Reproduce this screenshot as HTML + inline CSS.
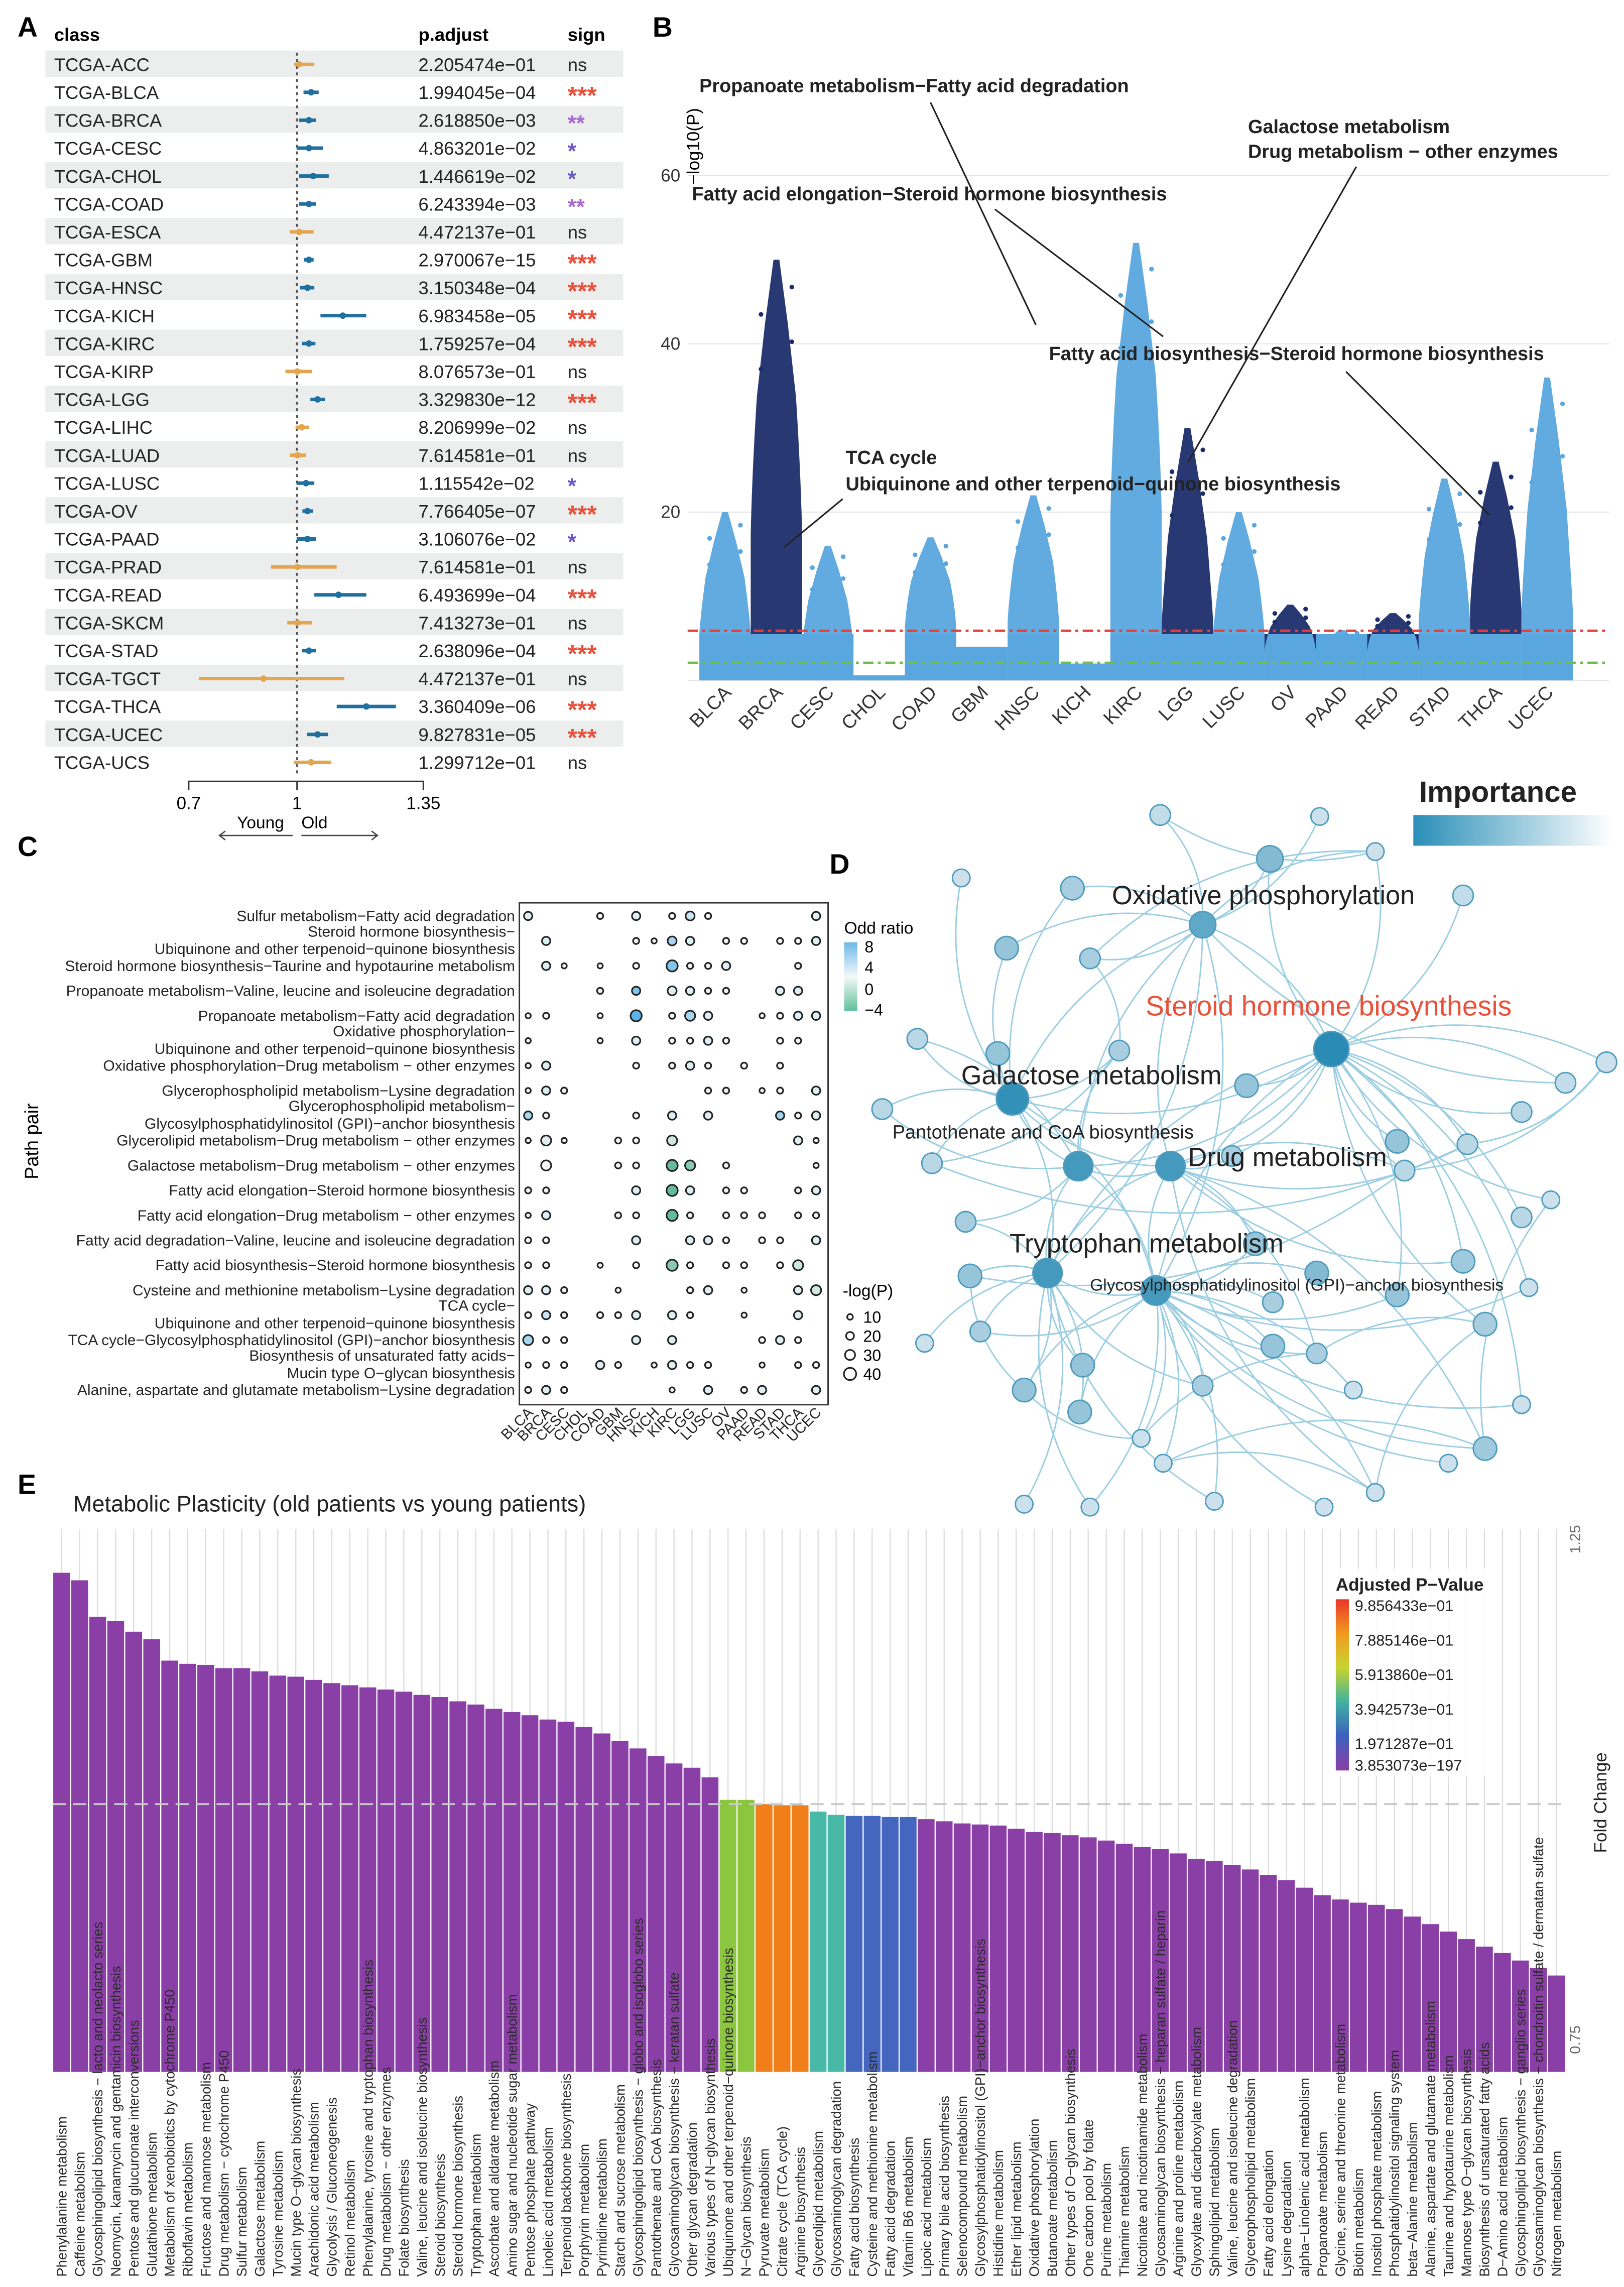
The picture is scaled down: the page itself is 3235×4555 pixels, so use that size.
<!DOCTYPE html>
<html><head><meta charset="utf-8"><style>
html,body{margin:0;padding:0;background:#fff}
svg{display:block;font-family:"Liberation Sans",sans-serif}
</style></head><body>
<svg id="fig" xmlns="http://www.w3.org/2000/svg" width="3235" height="4555" viewBox="0 0 1110 1563" preserveAspectRatio="none">
<defs>
<linearGradient id="impg" x1="0" x2="1" y1="0" y2="0"><stop offset="0" stop-color="#2a8fb8"/><stop offset="1" stop-color="#ffffff"/></linearGradient>
<linearGradient id="org" x1="0" x2="0" y1="0" y2="1"><stop offset="0" stop-color="#6cb8ea"/><stop offset="0.5" stop-color="#f4f8f8"/><stop offset="1" stop-color="#5fbf9c"/></linearGradient>
<linearGradient id="pg" x1="0" x2="0" y1="0" y2="1"><stop offset="0" stop-color="#e8352a"/><stop offset="0.2" stop-color="#f39a1e"/><stop offset="0.4" stop-color="#c7d42e"/><stop offset="0.6" stop-color="#3fb2a0"/><stop offset="0.8" stop-color="#3d5fbf"/><stop offset="1" stop-color="#8a3fa6"/></linearGradient>
</defs>
<g id="A"></g>
<g id="B"></g>
<g id="C"></g>
<g id="D"></g>
<g id="E"></g>
</svg>
<script>
// ---------- Panel A data ----------
const aClasses=["TCGA-ACC","TCGA-BLCA","TCGA-BRCA","TCGA-CESC","TCGA-CHOL","TCGA-COAD","TCGA-ESCA","TCGA-GBM","TCGA-HNSC","TCGA-KICH","TCGA-KIRC","TCGA-KIRP","TCGA-LGG","TCGA-LIHC","TCGA-LUAD","TCGA-LUSC","TCGA-OV","TCGA-PAAD","TCGA-PRAD","TCGA-READ","TCGA-SKCM","TCGA-STAD","TCGA-TGCT","TCGA-THCA","TCGA-UCEC","TCGA-UCS"];
const aEst=[1.006,1.039,1.033,1.033,1.045,1.033,1.006,1.033,1.029,1.127,1.033,1.001,1.057,1.013,1.001,1.025,1.029,1.029,1.001,1.115,1.001,1.033,0.907,1.192,1.057,1.039];
const aLow=[0.992,1.018,1.006,0.999,1.006,1.006,0.980,1.020,1.008,1.065,1.013,0.968,1.037,0.996,0.980,0.999,1.015,0.999,0.928,1.048,0.973,1.013,0.728,1.110,1.027,0.992];
const aHigh=[1.048,1.060,1.053,1.072,1.088,1.053,1.046,1.046,1.048,1.192,1.051,1.041,1.077,1.034,1.025,1.048,1.044,1.053,1.110,1.192,1.041,1.053,1.131,1.274,1.086,1.095];
const aPadj=["2.205474e−01","1.994045e−04","2.618850e−03","4.863201e−02","1.446619e−02","6.243394e−03","4.472137e−01","2.970067e−15","3.150348e−04","6.983458e−05","1.759257e−04","8.076573e−01","3.329830e−12","8.206999e−02","7.614581e−01","1.115542e−02","7.766405e−07","3.106076e−02","7.614581e−01","6.493699e−04","7.413273e−01","2.638096e−04","4.472137e−01","3.360409e−06","9.827831e−05","1.299712e−01"];
const aSign=["ns","***","**","*","*","**","ns","***","***","***","***","ns","***","ns","ns","*","***","*","ns","***","ns","***","ns","***","***","ns"];
const aTicks=[0.7,1,1.35];
// ---------- Panel B data ----------
const bCancers=["BLCA","BRCA","CESC","CHOL","COAD","GBM","HNSC","KICH","KIRC","LGG","LUSC","OV","PAAD","READ","STAD","THCA","UCEC"];
const bMax=[20,50,16,0.6,17,4,22,2,52,30,20,9,6,8,24,26,36];
const bBulk=[8,25,6,0.4,9,2,10,1.5,28,10,8,5,3,5,10,12,12];
const bTicks=[0,20,40,60];
// ---------- Panel C data ----------
const cCols=["BLCA","BRCA","CESC","CHOL","COAD","GBM","HNSC","KICH","KIRC","LGG","LUSC","OV","PAAD","READ","STAD","THCA","UCEC"];
const cRows=[["Sulfur metabolism−Fatty acid degradation"],["Steroid hormone biosynthesis−","Ubiquinone and other terpenoid−quinone biosynthesis"],["Steroid hormone biosynthesis−Taurine and hypotaurine metabolism"],["Propanoate metabolism−Valine, leucine and isoleucine degradation"],["Propanoate metabolism−Fatty acid degradation"],["Oxidative phosphorylation−","Ubiquinone and other terpenoid−quinone biosynthesis"],["Oxidative phosphorylation−Drug metabolism − other enzymes"],["Glycerophospholipid metabolism−Lysine degradation"],["Glycerophospholipid metabolism−","Glycosylphosphatidylinositol (GPI)−anchor biosynthesis"],["Glycerolipid metabolism−Drug metabolism − other enzymes"],["Galactose metabolism−Drug metabolism − other enzymes"],["Fatty acid elongation−Steroid hormone biosynthesis"],["Fatty acid elongation−Drug metabolism − other enzymes"],["Fatty acid degradation−Valine, leucine and isoleucine degradation"],["Fatty acid biosynthesis−Steroid hormone biosynthesis"],["Cysteine and methionine metabolism−Lysine degradation"],["TCA cycle−","Ubiquinone and other terpenoid−quinone biosynthesis"],["TCA cycle−Glycosylphosphatidylinositol (GPI)−anchor biosynthesis"],["Biosynthesis of unsaturated fatty acids−","Mucin type O−glycan biosynthesis"],["Alanine, aspartate and glutamate metabolism−Lysine degradation"]];
const cDots=[[0,0,22,1],[0,4,12,0],[0,6,22,1],[0,8,12,0],[0,9,25,2],[0,10,12,0],[0,16,22,1],
[1,1,22,1],[1,6,12,0],[1,7,8,0],[1,8,25,4],[1,9,22,1],[1,11,12,0],[1,12,12,0],[1,14,12,0],[1,15,12,0],[1,16,22,1],
[2,1,22,1],[2,2,8,0],[2,4,8,0],[2,6,12,0],[2,8,35,6],[2,9,12,0],[2,10,12,0],[2,11,22,1],[2,15,12,0],
[3,4,12,0],[3,6,22,6],[3,8,25,1],[3,9,22,1],[3,10,12,0],[3,11,12,0],[3,14,22,1],[3,15,22,1],
[4,0,8,0],[4,1,12,0],[4,4,8,0],[4,6,35,8],[4,8,12,0],[4,9,30,4],[4,10,22,1],[4,13,8,0],[4,14,12,0],[4,15,22,1],[4,16,22,1],
[5,0,8,0],[5,4,8,0],[5,6,22,1],[5,8,12,0],[5,9,12,0],[5,10,22,1],[5,11,12,0],[5,14,12,0],[5,15,12,0],
[6,0,8,0],[6,1,22,1],[6,6,12,0],[6,8,12,0],[6,9,22,1],[6,10,12,0],[6,12,12,0],[6,14,12,0],
[7,0,8,0],[7,1,22,1],[7,2,12,0],[7,10,12,0],[7,11,12,0],[7,13,8,0],[7,14,12,0],[7,16,22,1],
[8,0,22,4],[8,1,12,0],[8,6,12,0],[8,8,22,1],[8,10,22,1],[8,14,22,4],[8,15,12,0],[8,16,22,1],
[9,0,8,0],[9,1,30,1],[9,2,8,0],[9,5,12,0],[9,6,12,0],[9,8,30,-1],[9,15,22,1],[9,16,8,0],
[10,1,30,0],[10,5,12,0],[10,6,12,0],[10,8,35,-4],[10,9,30,-3],[10,11,12,0],[10,16,8,0],
[11,0,12,0],[11,1,12,0],[11,6,22,1],[11,8,35,-4],[11,9,22,1],[11,11,12,0],[11,12,12,0],[11,15,12,0],[11,16,22,1],
[12,0,8,0],[12,1,22,1],[12,5,12,0],[12,6,12,0],[12,8,35,-4],[12,9,12,0],[12,11,12,0],[12,12,12,0],[12,13,12,0],[12,15,12,0],[12,16,12,0],
[13,0,12,0],[13,1,12,0],[13,6,22,1],[13,9,22,1],[13,10,22,1],[13,11,12,0],[13,13,12,0],[13,14,12,0],[13,16,22,1],
[14,0,12,0],[14,1,12,0],[14,4,8,0],[14,6,12,0],[14,8,35,-3],[14,9,12,0],[14,11,12,0],[14,12,12,0],[14,14,12,0],[14,15,30,-1],
[15,0,22,1],[15,1,22,1],[15,2,12,0],[15,5,8,0],[15,9,12,0],[15,10,22,1],[15,12,8,0],[15,15,22,1],[15,16,30,-1],
[16,0,12,0],[16,1,22,2],[16,2,12,0],[16,4,12,0],[16,5,12,0],[16,6,22,1],[16,8,22,1],[16,9,12,0],[16,12,8,0],[16,15,22,1],
[17,0,30,4],[17,1,12,0],[17,2,12,0],[17,6,22,1],[17,8,22,1],[17,13,12,0],[17,14,22,1],[17,15,12,0],
[18,0,8,0],[18,1,12,0],[18,2,12,0],[18,4,22,1],[18,5,12,0],[18,7,8,0],[18,8,22,1],[18,9,12,0],[18,10,12,0],[18,13,8,0],[18,15,12,0],[18,16,12,0],
[19,0,12,0],[19,1,22,1],[19,2,12,0],[19,8,8,0],[19,10,22,1],[19,12,12,0],[19,13,22,1],[19,16,22,1]];
// ---------- Panel E data ----------
const eLabels=["Phenylalanine metabolism","Caffeine metabolism","Glycosphingolipid biosynthesis − lacto and neolacto series","Neomycin, kanamycin and gentamicin biosynthesis","Pentose and glucuronate interconversions","Glutathione metabolism","Metabolism of xenobiotics by cytochrome P450","Riboflavin metabolism","Fructose and mannose metabolism","Drug metabolism − cytochrome P450","Sulfur metabolism","Galactose metabolism","Tyrosine metabolism","Mucin type O−glycan biosynthesis","Arachidonic acid metabolism","Glycolysis / Gluconeogenesis","Retinol metabolism","Phenylalanine, tyrosine and tryptophan biosynthesis","Drug metabolism − other enzymes","Folate biosynthesis","Valine, leucine and isoleucine biosynthesis","Steroid biosynthesis","Steroid hormone biosynthesis","Tryptophan metabolism","Ascorbate and aldarate metabolism","Amino sugar and nucleotide sugar metabolism","Pentose phosphate pathway","Linoleic acid metabolism","Terpenoid backbone biosynthesis","Porphyrin metabolism","Pyrimidine metabolism","Starch and sucrose metabolism","Glycosphingolipid biosynthesis − globo and isoglobo series","Pantothenate and CoA biosynthesis","Glycosaminoglycan biosynthesis − keratan sulfate","Other glycan degradation","Various types of N−glycan biosynthesis","Ubiquinone and other terpenoid−quinone biosynthesis","N−Glycan biosynthesis","Pyruvate metabolism","Citrate cycle (TCA cycle)","Arginine biosynthesis","Glycerolipid metabolism","Glycosaminoglycan degradation","Fatty acid biosynthesis","Cysteine and methionine metabolism","Fatty acid degradation","Vitamin B6 metabolism","Lipoic acid metabolism","Primary bile acid biosynthesis","Selenocompound metabolism","Glycosylphosphatidylinositol (GPI)−anchor biosynthesis","Histidine metabolism","Ether lipid metabolism","Oxidative phosphorylation","Butanoate metabolism","Other types of O−glycan biosynthesis","One carbon pool by folate","Purine metabolism","Thiamine metabolism","Nicotinate and nicotinamide metabolism","Glycosaminoglycan biosynthesis − heparan sulfate / heparin","Arginine and proline metabolism","Glyoxylate and dicarboxylate metabolism","Sphingolipid metabolism","Valine, leucine and isoleucine degradation","Glycerophospholipid metabolism","Fatty acid elongation","Lysine degradation","alpha−Linolenic acid metabolism","Propanoate metabolism","Glycine, serine and threonine metabolism","Biotin metabolism","Inositol phosphate metabolism","Phosphatidylinositol signaling system","beta−Alanine metabolism","Alanine, aspartate and glutamate metabolism","Taurine and hypotaurine metabolism","Mannose type O−glycan biosynthesis","Biosynthesis of unsaturated fatty acids","D−Amino acid metabolism","Glycosphingolipid biosynthesis − ganglio series","Glycosaminoglycan biosynthesis − chondroitin sulfate / dermatan sulfate","Nitrogen metabolism"];
const eFC=[1.216,1.209,1.175,1.171,1.161,1.154,1.134,1.131,1.130,1.127,1.127,1.124,1.120,1.119,1.116,1.113,1.111,1.109,1.107,1.105,1.102,1.100,1.096,1.093,1.089,1.086,1.083,1.079,1.077,1.072,1.066,1.059,1.052,1.045,1.038,1.034,1.025,1.004,1.004,1.000,0.999,0.999,0.993,0.990,0.989,0.989,0.988,0.988,0.986,0.984,0.982,0.981,0.980,0.977,0.974,0.973,0.971,0.969,0.966,0.963,0.960,0.958,0.954,0.949,0.947,0.943,0.939,0.934,0.929,0.922,0.915,0.911,0.908,0.906,0.902,0.895,0.888,0.881,0.874,0.867,0.861,0.854,0.847,0.840];
const ePadj=[0,0,0,0,0,0,0,0,0,0,0,0,0,0,0,0,0,0,0,0,0,0,0,0,0,0,0,0,0,0,0,0,0,0,0,0,0,0.60,0.62,0.80,0.82,0.82,0.40,0.42,0.20,0.22,0.22,0.20,0,0,0,0,0,0,0,0,0,0,0,0,0,0,0,0,0,0,0,0,0,0,0,0,0,0,0,0,0,0,0,0,0,0,0,0];
const eTicks=[0.75,1.0,1.25];
const ePLabels=["9.856433e−01","7.885146e−01","5.913860e−01","3.942573e−01","1.971287e−01","3.853073e−197"];

const NS="http://www.w3.org/2000/svg";
function mk(parent,tag,attrs,text){const e=document.createElementNS(NS,tag);for(const k in attrs)e.setAttribute(k,attrs[k]);if(text!==undefined)e.textContent=text;parent.appendChild(e);return e;}

// ================= PANEL A =================
(function(){
const g=document.getElementById('A');
const ax=v=>203+(v-1)*246.7;
const rowY=i=>44+i*19.08;
let t=mk(g,'text',{x:12,y:25,'font-size':19,'font-weight':'bold'},'A');


[["class",37],["p.adjust",286],["sign",388]].forEach(h=>{
 const e=mk(g,'text',{x:h[1],y:28,'font-size':12.5,'font-weight':'bold'},h[0]);
 
 
});
aClasses.forEach((c,i)=>{
 const y=rowY(i);
 if(i%2===0){const r=mk(g,'rect',{x:31,y:y-9.5,width:395,height:18,fill:'#eceeee'});
  
  }
});
const dl=mk(g,'line',{x1:ax(1),x2:ax(1),y1:36,y2:530,stroke:'#555','stroke-width':1.3,'stroke-dasharray':'2,2.5'});


aClasses.forEach((c,i)=>{
 const y=rowY(i);const sig=aSign[i]!=='ns';const col=sig?'#1f6fa0':'#e3a54e';
 let e=mk(g,'text',{x:37,y:y+4.5,'font-size':12.5,fill:'#222'},c);
 
 
 const l=mk(g,'line',{x1:ax(aLow[i]),x2:ax(aHigh[i]),y1:y,y2:y,stroke:col,'stroke-width':2.4});
 
 
 const p=mk(g,'circle',{cx:ax(aEst[i]),cy:y,r:2.2,fill:col});
 
 
 e=mk(g,'text',{x:286,y:y+4.5,'font-size':12.5,fill:'#222'},aPadj[i]);
 
 
 let sc='#222',fs=12.5,yy=y+4.5;
 if(aSign[i]==='***'){sc='#e8503a';fs=17;yy=y+8;}else if(aSign[i]==='**'){sc='#a866d0';fs=15;yy=y+7;}else if(aSign[i]==='*'){sc='#6a5ac8';fs=15;yy=y+7;}
 e=mk(g,'text',{x:388,y:yy,'font-size':fs,fill:sc,'font-weight':aSign[i]==='ns'?'normal':'bold'},aSign[i]);
 
 
});
const al=mk(g,'path',{d:`M${ax(0.7)},540 V534 H${ax(1.35)} V540 M${ax(1)},534 V540`,stroke:'#333',fill:'none','stroke-width':1});


aTicks.forEach(v=>{const e=mk(g,'text',{x:ax(v),y:553,'font-size':12,'text-anchor':'middle'},String(v));
 
 });
let e=mk(g,'text',{x:162,y:566,'font-size':11.5},'Young');

e=mk(g,'text',{x:206,y:566,'font-size':11.5},'Old');

const ar=mk(g,'path',{d:'M200,571 H150 M154,568 L150,571 L154,574 M206,571 H258 M254,568 L258,571 L254,574',stroke:'#444',fill:'none','stroke-width':0.9});

})();

// ================= PANEL B =================
(function(){
const g=document.getElementById('B');
const ys=v=>465-v*5.75;
const x0=478,cw=(1075-478)/bCancers.length;
let t=mk(g,'text',{x:446,y:25,'font-size':19,'font-weight':'bold'},'B');

bTicks.forEach(v=>{
 const l=mk(g,'line',{x1:470,x2:1100,y1:ys(v),y2:ys(v),stroke:'#e6e6e6','stroke-width':0.8});
 
 if(v>0){const e=mk(g,'text',{x:465,y:ys(v)+4,'font-size':12,'text-anchor':'end',fill:'#333'},String(v));
 }
});
t=mk(g,'text',{x:0,y:0,'font-size':12,transform:'translate(478,100) rotate(-90)','text-anchor':'middle'},'−log10(P)');

bCancers.forEach((c,i)=>{
 const xa=x0+i*cw,xb=xa+cw,xc=xa+cw/2;
 const dark=i%2===1;const col=dark?'#1c2d6a':'#5aa6de';
 const base=Math.min(bMax[i],5.5);
 const r=mk(g,'rect',{x:xa,y:ys(base),width:cw,height:ys(0)-ys(base),fill:'#5aa6de'});
 
 if(bMax[i]>5.5){
  const b=bBulk[i],m=bMax[i],q1=b+(m-b)*0.35,q2=b+(m-b)*0.7;
  const d=`M${xa},${ys(5.5)} L${xa},${ys(b*0.7)} Q${xa+1},${ys(b)} ${xa+cw*0.12},${ys(q1)} L${xc-cw*0.22},${ys(q2)} L${xc-2},${ys(m)} L${xc+2},${ys(m)} L${xc+cw*0.22},${ys(q2)} L${xb-cw*0.12},${ys(q1)} Q${xb-1},${ys(b)} ${xb},${ys(b*0.7)} L${xb},${ys(5.5)} Z`;
  const p=mk(g,'path',{d:d,fill:col,opacity:0.95});
  
  // sparse outlier dots along upper part
  for(let k=1;k<=4;k++){
   const v=q1+(m-q1)*k/5;const off=(k%2?-1:1)*cw*0.3;
   const dt=mk(g,'circle',{cx:xc+off,cy:ys(v),r:1.6,fill:col});
   
  }
 }
 const e=mk(g,'text',{x:0,y:0,'font-size':13,'text-anchor':'end',fill:'#333',transform:`translate(${xc+5},${474}) rotate(-45)`},c);
 
});
let l=mk(g,'line',{x1:470,x2:1100,y1:ys(5.9),y2:ys(5.9),stroke:'#e0413a','stroke-width':1.6,'stroke-dasharray':'7,3,2,3'});

l=mk(g,'line',{x1:470,x2:1100,y1:ys(2.1),y2:ys(2.1),stroke:'#6cc04a','stroke-width':1.6,'stroke-dasharray':'7,3,2,3'});

const ann=[["Propanoate metabolism−Fatty acid degradation",478,63],["Galactose metabolism",853,91],["Drug metabolism − other enzymes",853,108],["Fatty acid elongation−Steroid hormone biosynthesis",473,137],["Fatty acid biosynthesis−Steroid hormone biosynthesis",717,246],["TCA cycle",578,317],["Ubiquinone and other terpenoid−quinone biosynthesis",578,335]];
ann.forEach(a=>{const e=mk(g,'text',{x:a[1],y:a[2],'font-size':13,'font-weight':'bold',fill:'#222'},a[0]);
 });
const lines="M636,70 L708,222 M680,143 L795,230 M927,114 L812,316 M920,254 L1018,352 M576,341 L536,374";
l=mk(g,'path',{d:lines,stroke:'#222','stroke-width':1.1,fill:'none'});

t=mk(g,'text',{x:970,y:548,'font-size':20,'font-weight':'bold',fill:'#222'},'Importance');

const cb=mk(g,'rect',{x:966,y:557,width:136,height:21,fill:'url(#impg)'});

})();

// ================= PANEL C =================
(function(){
const g=document.getElementById('C');
const rowY=i=>626+i*17.05, colX=j=>361+j*12.3;
const rad=v=>1.2+v*0.075;
function fillFor(o){
 if(o>0){const a=Math.min(o/8,1);return `rgb(${Math.round(240-a*150)},${Math.round(246-a*66)},${Math.round(246-a*14)})`;}
 if(o<0){const a=Math.min(-o/4,1);return `rgb(${Math.round(240-a*140)},${Math.round(246-a*60)},${Math.round(244-a*90)})`;}
 return '#f2f6f6';}
let t=mk(g,'text',{x:12,y:585,'font-size':19,'font-weight':'bold'},'C');

const box=mk(g,'rect',{x:355,y:617,width:211,height:343,fill:'none',stroke:'#333','stroke-width':1});

cRows.forEach((r,i)=>{
 const y=rowY(i);
 if(r.length===1){const e=mk(g,'text',{x:352,y:y+3.5,'font-size':10.3,'text-anchor':'end',fill:'#222'},r[0]);
  }
 else{r.forEach((s,k)=>{const e=mk(g,'text',{x:352,y:y-3+k*12,'font-size':10.3,'text-anchor':'end',fill:'#222'},s);
  });}
});
cDots.forEach(d=>{
 const c=mk(g,'circle',{cx:colX(d[1]),cy:rowY(d[0]),r:rad(d[2]),fill:fillFor(d[3]),stroke:'#222','stroke-width':1.1});
 
});
cCols.forEach((c,j)=>{const e=mk(g,'text',{x:0,y:0,'font-size':10,'text-anchor':'end',fill:'#222',transform:`translate(${colX(j)+4},966) rotate(-45)`},c);
 });
t=mk(g,'text',{x:0,y:0,'font-size':13,'text-anchor':'middle',transform:'translate(26,780) rotate(-90)'},'Path pair');

t=mk(g,'text',{x:577,y:638,'font-size':11.5},'Odd ratio');

const cb=mk(g,'rect',{x:577,y:644,width:9,height:47,fill:'url(#org)'});

[["8",651],["4",665],["0",680],["−4",694]].forEach(a=>{const e=mk(g,'text',{x:591,y:a[1],'font-size':11},a[0]);
 });
t=mk(g,'text',{x:576,y:886,'font-size':11.5},'-log(P)');

[[10,900],[20,913],[30,926],[40,939]].forEach(a=>{
 const c=mk(g,'circle',{cx:581,cy:a[1],r:rad(a[0]),fill:'none',stroke:'#222','stroke-width':1.1});
 
 const e=mk(g,'text',{x:590,y:a[1]+4,'font-size':11},String(a[0]));
 });
})();

// ================= PANEL D =================
const dNodes=[[910,717,12,1],[692,751,11,0.95],[822,632,9,0.7],[800,797,10,0.85],[716,870,10,0.85],[737,797,10,0.85],[790,882,10,0.85],
[657,600,6,.1],[733,607,8,.3],[793,557,7,.15],[868,587,9,.5],[902,558,6,.1],[940,582,6,.1],[1000,612,7,.15],[688,648,8,.4],[745,655,7,.3],[627,710,7,.2],[682,720,8,.4],[765,718,7,.3],[852,742,8,.4],[603,758,7,.2],[637,795,7,.2],[660,835,7,.3],[955,780,8,.4],[1003,782,7,.2],[1040,760,7,.2],[1070,740,7,.15],[1098,726,7,.1],[1000,862,8,.35],[1040,832,7,.2],[960,800,7,.2],[900,870,8,.5],[858,850,8,.4],[663,872,8,.4],[670,910,7,.3],[632,918,6,.1],[700,950,8,.4],[740,933,8,.4],[738,965,8,.4],[780,983,6,.1],[822,947,7,.3],[870,920,8,.4],[900,925,7,.3],[925,950,6,.1],[955,885,8,.4],[1015,905,8,.3],[1040,960,6,.1],[990,1000,6,.1],[940,1020,6,.1],[905,1030,6,.1],[830,1026,6,.1],[795,1000,6,.1],[745,1030,6,.1],[700,1028,6,.1],[1015,990,8,.35],[870,890,7,.3],[842,790,7,.3],[1060,820,6,.1],[1045,880,6,.1]];
(function(){
const g=document.getElementById('D');
let t=mk(g,'text',{x:567,y:597,'font-size':19,'font-weight':'bold'},'D');

const eg=mk(g,'g',{fill:'none',stroke:'#5aaed0','stroke-width':1,opacity:0.6});

function edge(a,b,k){
 const A=dNodes[a],B=dNodes[b];const mx=(A[0]+B[0])/2,my=(A[1]+B[1])/2;
 const dx=B[0]-A[0],dy=B[1]-A[1];const s=(k%2?0.22:-0.22);
 const e=mk(eg,'path',{d:`M${A[0]},${A[1]} Q${mx-dy*s},${my+dx*s} ${B[0]},${B[1]}`});
 
}
let k=0;
for(let i=0;i<7;i++)for(let j=i+1;j<7;j++)edge(i,j,k++);
for(let i=7;i<dNodes.length;i++){
 const d=dNodes.slice(0,7).map((h,hi)=>[Math.hypot(h[0]-dNodes[i][0],h[1]-dNodes[i][1]),hi]).sort((a,b)=>a[0]-b[0]);
 edge(i,d[0][1],k++);if(i%2===0)edge(i,d[1][1],k++);
 if(i+3<dNodes.length&&i%3===0)edge(i,i+3,k++);
}
dNodes.forEach((n,i)=>{
 const a=n[3];const r=Math.round(222-a*180),gg=Math.round(234-a*95),b=Math.round(242-a*62);
 const c=mk(g,'circle',{cx:n[0],cy:n[1],r:n[2],fill:`rgb(${r},${gg},${b})`,stroke:'#4f9cbf','stroke-width':1});
 
});
const labs=[["Oxidative phosphorylation",760,618,18,'#222'],["Steroid hormone biosynthesis",783,694,19,'#e8503a'],["Galactose metabolism",657,741,18,'#222'],["Pantothenate and CoA biosynthesis",610,778,13,'#222'],["Drug metabolism",812,797,18,'#222'],["Tryptophan metabolism",690,856,18,'#222'],["Glycosylphosphatidylinositol (GPI)−anchor biosynthesis",745,882,11.5,'#222']];
labs.forEach(l=>{const e=mk(g,'text',{x:l[1],y:l[2],'font-size':l[3],fill:l[4]},l[0]);
 });
})();

// ================= PANEL E =================
(function(){
const g=document.getElementById('E');
const ys=v=>1233-(v-1)*732;
const x0=36,bw=(1070-36)/eFC.length;
function pcol(p){if(p>=0.75)return '#f07f1a';if(p>=0.55)return '#8cc63f';if(p>=0.35)return '#48b9a6';if(p>=0.15)return '#4466bf';return '#8a3fa6';}
let t=mk(g,'text',{x:12,y:1021,'font-size':19,'font-weight':'bold'},'E');

t=mk(g,'text',{x:50,y:1033,'font-size':15.5,fill:'#222'},'Metabolic Plasticity (old patients vs young patients)');

eFC.forEach((v,i)=>{
 const xc=x0+i*bw+bw/2;
 const l=mk(g,'line',{x1:xc,x2:xc,y1:1045,y2:1416,stroke:'#dcdcdc','stroke-width':0.8});
 
});
eFC.forEach((v,i)=>{
 const xa=x0+i*bw;
 const r=mk(g,'rect',{x:xa+0.4,y:ys(v),width:bw-0.8,height:ys(0.75)-ys(v),fill:pcol(ePadj[i])});
 
});
let l=mk(g,'line',{x1:36,x2:1070,y1:ys(1),y2:ys(1),stroke:'#c8c8c8','stroke-width':1.3,'stroke-dasharray':'9,5'});

eLabels.forEach((s,i)=>{
 const xc=x0+i*bw+bw/2;
 const e=mk(g,'text',{x:0,y:0,'font-size':9.4,fill:'#2a2a2a',transform:`translate(${xc+3.3},1556) rotate(-90)`},s);
 
});
[[1.25],[0.75]].forEach(a=>{const e=mk(g,'text',{x:0,y:0,'font-size':10,fill:'#666','text-anchor':'middle',transform:`translate(1080,${a[0]===1.25?ys(1.25)+2:ys(0.75)-22}) rotate(-90)`},String(a[0]));
 });
t=mk(g,'text',{x:0,y:0,'font-size':12,'text-anchor':'middle',fill:'#222',transform:'translate(1098,1232) rotate(-90)'},'Fold Change');

const lg=mk(g,'rect',{x:905,y:1072,width:118,height:142,fill:'#ffffff',opacity:0.85});

t=mk(g,'text',{x:913,y:1087,'font-size':12,'font-weight':'bold',fill:'#222'},'Adjusted P−Value');

const cb=mk(g,'rect',{x:913,y:1093,width:9,height:117,fill:'url(#pg)'});

ePLabels.forEach((s,i)=>{const y=i<5?1101+i*23.6:1210;
 const e=mk(g,'text',{x:926,y:y,'font-size':10.5,fill:'#222'},s);
 });
})();
</script>
</body></html>
